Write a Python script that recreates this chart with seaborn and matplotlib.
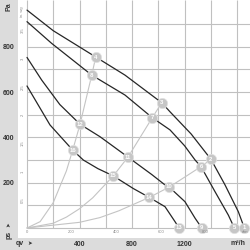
import matplotlib
matplotlib.use("Agg")
import matplotlib.pyplot as plt
import seaborn as sns
import pandas as pd

# ---------------- data ----------------
grid_x = [0, 200, 400, 600, 800, 1000, 1200, 1400, 1600]          # m3/h
grid_y = [0, 100, 200, 300, 400, 500, 600, 700, 800, 900]          # Pa
x_ticks = [400, 800, 1200]
y_ticks = [200, 400, 600, 800]
inwg_labels = [0.5, 1, 1.5, 2, 2.5, 3, 3.5]
cfm_labels = [0, 200, 400, 600, 800]

# fan curves (m3/h, Pa)
curveA_x = [0, 200, 526, 746, 1026, 1089, 1250, 1401, 1508, 1609, 1655]
curveA_y = [962, 871, 754, 675, 553, 513, 415, 303, 190, 72, 0]
curveB_x = [0, 188, 493, 746, 954, 1089, 1200, 1280, 1325, 1432, 1533, 1579]
curveB_y = [911, 815, 675, 587, 487, 433, 363, 300, 271, 160, 57, 0]
curveC_x = [0, 112, 250, 404, 556, 769, 950, 1051, 1084, 1203, 1280, 1331]
curveC_y = [753, 653, 545, 458, 403, 313, 236, 190, 180, 116, 43, 0]
curveD_x = [0, 175, 348, 429, 540, 657, 810, 931, 1051, 1127, 1158]
curveD_y = [627, 455, 344, 300, 262, 230, 174, 135, 94, 28, 0]

# system curves
sys1_x = [0, 100, 200, 300, 348, 404, 493, 523]
sys1_y = [0, 28, 112, 252, 344, 458, 675, 754]
sys2_x = [0, 200, 300, 400, 500, 657, 769, 954, 1026]
sys2_y = [0, 21, 48, 85, 133, 230, 313, 487, 553]
sys3_x = [0, 400, 556, 700, 931, 1084, 1325, 1401]
sys3_y = [0, 25, 46, 76, 135, 181, 271, 303]

# operating points 1..16
pt_num = list(range(1, 17))
pt_x = [1655, 1401, 1026, 523, 1579, 1325, 954, 493, 1331, 1084, 769, 404, 1158, 931, 657, 348]
pt_y = [0, 303, 553, 754, 0, 271, 487, 675, 0, 181, 313, 458, 0, 135, 230, 344]

# ---------------- figure ----------------
sns.set_style("white")
plt.rcParams["font.family"] = ["Liberation Sans", "DejaVu Sans"]

BAND = "#dcdcdc"
fig = plt.figure(figsize=(2.5, 2.5), dpi=100, facecolor=BAND)
ax = fig.add_axes([18 / 250, 12 / 250, 232 / 250, 238 / 250])
ax.set_facecolor("white")
XMIN, XMAX = -68.5, 1698
YMIN, YMAX = -44.2, 1006.6
ax.set_xlim(XMIN, XMAX)
ax.set_ylim(YMIN, YMAX)
for s in ax.spines.values():
    s.set_visible(False)

# grid limited to the data quadrant
for gx in grid_x:
    ax.vlines(gx, 0, YMAX, color="#c0c0c0", lw=0.8, zorder=0)
for gy in grid_y:
    ax.hlines(gy, 0, XMAX, color="#c0c0c0", lw=0.8, zorder=0)

# system curves
for sx, sy in [(sys1_x, sys1_y), (sys2_x, sys2_y), (sys3_x, sys3_y)]:
    sns.lineplot(x=sx, y=sy, sort=False, color="#c4c4c4", lw=0.8, ax=ax, zorder=1)

# fan curves
for cx, cy in [(curveA_x, curveA_y), (curveB_x, curveB_y),
               (curveC_x, curveC_y), (curveD_x, curveD_y)]:
    sns.lineplot(x=cx, y=cy, sort=False, color="#262626", lw=0.9, ax=ax, zorder=2)

# operating points
pts = pd.DataFrame({"n": pt_num, "x": pt_x, "y": pt_y})
sns.scatterplot(data=pts, x="x", y="y", s=55, color="#c6c6c6",
                edgecolor="#e2e2e2", linewidth=0.5, ax=ax, zorder=3, clip_on=False)
for n, x, y in zip(pt_num, pt_x, pt_y):
    ax.text(x, y, str(n), ha="center", va="center", fontsize=4.3, color="white",
            fontweight="bold", zorder=4, clip_on=False)

# main ticks (labels in the grey bands)
ax.set_xticks(x_ticks)
ax.set_yticks(y_ticks)
ax.set_xticklabels([str(v) for v in x_ticks], fontsize=5, fontweight="bold", color="#333333")
ax.set_yticklabels([str(v) for v in y_ticks], fontsize=5, fontweight="bold", color="#333333")
ax.tick_params(axis="x", length=0, pad=2.2)
ax.tick_params(axis="y", length=0, pad=6.5)
for lbl in ax.get_yticklabels():
    lbl.set_ha("center")
ax.set_xlabel("")
ax.set_ylabel("")

# inner secondary labels
for v in inwg_labels:
    ax.text(-35, v * 249.09, str(v), rotation=90, ha="center", va="center",
            fontsize=3, color="#888888")
ax.text(-35, 955, "in. wg", rotation=90, ha="center", va="center", fontsize=3, color="#888888")
for v in cfm_labels:
    ax.text(v * 1.699, -18, str(v), ha="center", va="center", fontsize=3, color="#888888")
ax.text(1660, -18, "cfm", ha="center", va="center", fontsize=3, color="#888888")

# band texts (figure pixel coordinates)
def ftxt(px, py, s, **kw):
    fig.text(px / 250, 1 - py / 250, s, ha="center", va="center", fontweight="bold",
             color="#333333", **kw)

ftxt(9, 7, "Pa", fontsize=5, rotation=90)
ftxt(9, 225, "➤", fontsize=4, rotation=90)
ftxt(9, 235, "ps", fontsize=5, rotation=90)
ftxt(20, 243.5, "qv", fontsize=5)
ftxt(30, 243.5, "➤", fontsize=4)
ftxt(238, 243.5, "m³/h", fontsize=5)

fig.savefig("out.png", dpi=100, facecolor=BAND)
